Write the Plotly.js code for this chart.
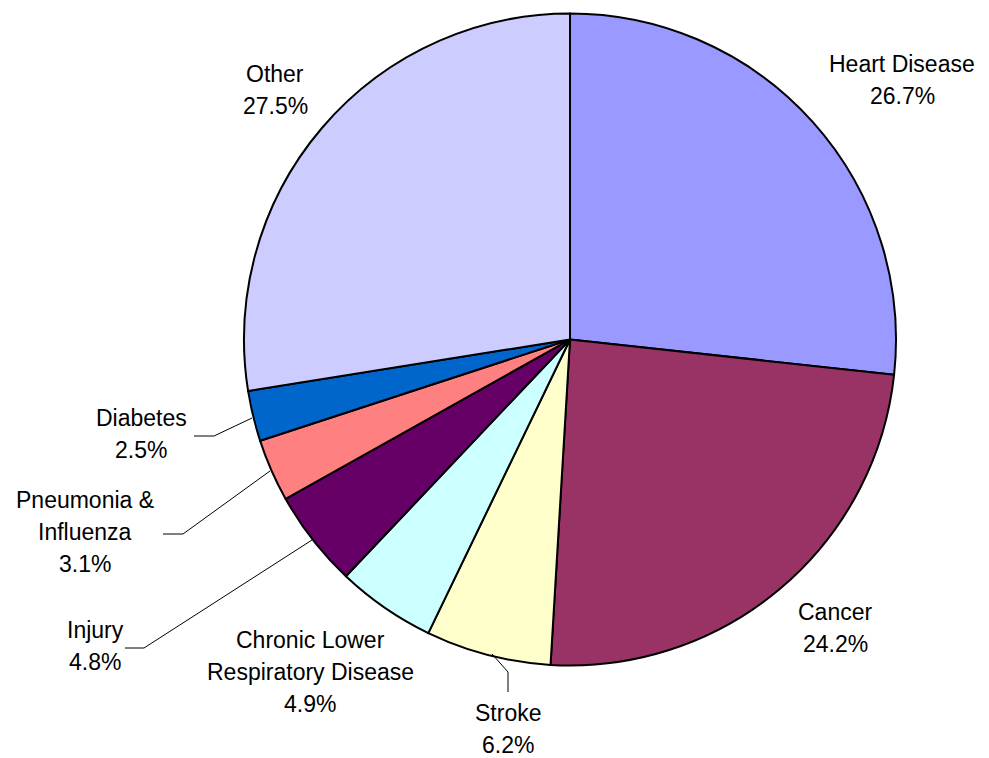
<!DOCTYPE html>
<html>
<head>
<meta charset="utf-8">
<script src="https://cdn.plot.ly/plotly-3.0.1.min.js"></script>
<style>html,body{margin:0;padding:0;background:#fff;}#chart{width:989px;height:758px;}</style>
</head>
<body>
<div id="chart"></div>
<script>
// ---- data ----
var labels = ["Heart Disease", "Cancer", "Stroke", "Chronic Lower Respiratory Disease", "Injury", "Pneumonia & Influenza", "Diabetes", "Other"];
var labelLines = [["Heart Disease"], ["Cancer"], ["Stroke"], ["Chronic Lower", "Respiratory Disease"], ["Injury"], ["Pneumonia &", "Influenza"], ["Diabetes"], ["Other"]];
var values = [26.7, 24.2, 6.2, 4.9, 4.8, 3.1, 2.5, 27.5];
var colors = ["#9999FF", "#993366", "#FFFFCC", "#CCFFFF", "#660066", "#FF8080", "#0066CC", "#CCCCFF"];

// ---- layout (pixel positions of label blocks: center x, first line y) ----
var W = 989, H = 758;
var labelPos = [[902, 64], [835, 612], [508, 713], [310, 640], [95, 630], [85, 500], [141, 418], [275, 74]];
var lineStep = 32;
var leaders = [
  null, null,
  [[492, 654], [508, 672], [508, 692]],
  null,
  [[312, 540], [144, 648], [125, 648]],
  [[270, 471], [183, 534], [163, 534]],
  [[252, 418], [214, 436], [194, 436]],
  null
];

function px(x) { return x / W; }
function py(y) { return 1 - y / H; }

var annotations = [];
labels.forEach(function (lab, i) {
  var lines = labelLines[i].concat([values[i].toFixed(1) + "%"]);
  lines.forEach(function (t, j) {
    annotations.push({
      xref: "paper", yref: "paper",
      x: px(labelPos[i][0]), y: py(labelPos[i][1] + j * lineStep),
      xanchor: "center", yanchor: "middle",
      text: t, showarrow: false,
      font: {family: "Liberation Sans, Arial, sans-serif", size: 23, color: "#000"}
    });
  });
});

var shapes = [];
leaders.forEach(function (pts) {
  if (!pts) return;
  for (var k = 0; k < pts.length - 1; k++) {
    shapes.push({
      type: "line", xref: "paper", yref: "paper",
      x0: px(pts[k][0]), y0: py(pts[k][1]), x1: px(pts[k + 1][0]), y1: py(pts[k + 1][1]),
      line: {color: "#000", width: 1}
    });
  }
});

var cx = 570, cy = 339.5, r = 326;
var trace = {
  type: "pie",
  labels: labels,
  values: values,
  sort: false,
  direction: "clockwise",
  rotation: 0,
  textinfo: "none",
  hoverinfo: "label+percent",
  marker: {colors: colors, line: {color: "#000", width: 2}},
  domain: {x: [px(cx - r), px(cx + r)], y: [py(cy + r), py(cy - r)]},
  showlegend: false
};

var layout = {
  width: W, height: H,
  margin: {l: 0, r: 0, t: 0, b: 0},
  paper_bgcolor: "#fff",
  showlegend: false,
  annotations: annotations,
  shapes: shapes
};

Plotly.newPlot("chart", [trace], layout, {displayModeBar: false, staticPlot: true});
</script>
</body>
</html>
